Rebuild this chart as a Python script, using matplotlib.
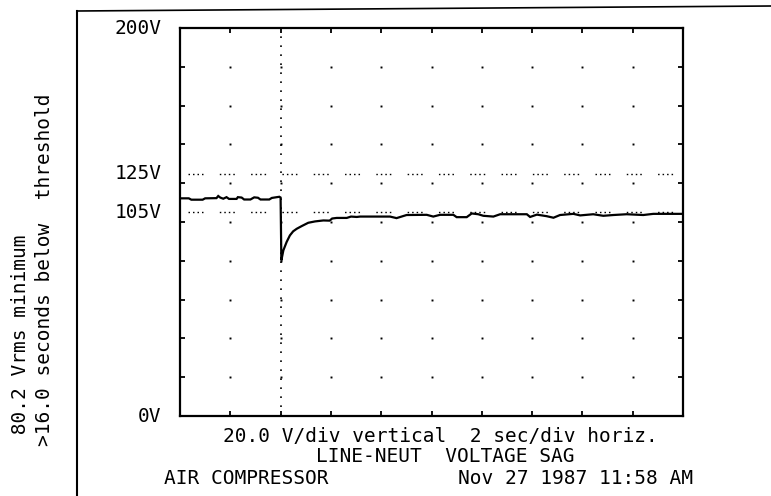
import matplotlib
matplotlib.use("Agg")
import matplotlib.pyplot as plt
from matplotlib.lines import Line2D
import numpy as np

# ---------------- data ----------------
time_s = [0.0, 0.35, 0.45, 0.9, 1.0, 1.45, 1.52, 1.6, 1.72, 1.85, 1.95, 2.25, 2.3,
          2.45, 2.55, 2.8, 2.95, 3.1, 3.2, 3.55, 3.65, 3.95, 4.0,
          4.03, 4.11, 4.24, 4.37, 4.50, 4.64, 4.84, 5.10, 5.37, 5.70, 5.95, 6.05,
          6.23, 6.63, 6.8, 7.03,
          7.16, 8.35, 8.61, 9.01, 9.81, 10.07, 10.34, 10.87, 11.0, 11.4, 11.6,
          11.86, 12.06, 12.46, 12.73, 13.79, 13.92, 14.19, 14.58, 14.85, 15.11,
          15.64, 15.91, 16.43, 16.83, 17.23, 17.76, 18.42, 18.82, 20.0]
vrms = [112.2, 112.2, 111.5, 111.5, 112.2, 112.3, 113.4, 112.6, 112.0, 112.8, 111.9,
        111.9, 112.8, 112.6, 111.6, 111.6, 112.7, 112.5, 111.6, 111.6, 112.4, 113.0,
        112.6,
        80.2, 85.4, 89.7, 93.1, 95.2, 96.5, 97.9, 99.6, 100.3, 100.8, 100.7, 101.8,
        102.1, 102.1, 102.8, 102.6,
        102.8, 102.8, 102.0, 103.6, 103.7, 102.8, 103.7, 103.7, 102.5, 102.5, 104.4,
        104.0, 103.2, 102.8, 104.0, 104.0, 102.6, 103.8, 103.0, 102.2, 103.6,
        104.2, 103.4, 104.0, 103.2, 103.6, 104.0, 103.6, 104.2, 104.2]
thresholds = [125, 105]
event_time = 4.0
y_labels = {200: "200V", 125: "125V", 105: "105V", 0: "0V"}
x_max, y_max = 20, 200
x_div, y_div = 2, 20

caption_scale = "20.0 V/div vertical  2 sec/div horiz."
caption_title = "LINE-NEUT  VOLTAGE SAG"
caption_site = "AIR COMPRESSOR"
caption_date = "Nov 27 1987 11:58 AM"
side_line1 = " 80.2 Vrms minimum"
side_line2 = ">16.0 seconds below  threshold"

# ---------------- figure ----------------
W, H = 771, 496
fig = plt.figure(figsize=(W / 100, H / 100), dpi=100)
fig.patch.set_facecolor("white")
FONT = "DejaVu Sans Mono"
FS = 14

ax = fig.add_axes([180 / W, (H - 416) / H, 503 / W, 388 / H])
ax.set_xlim(0, x_max)
ax.set_ylim(0, y_max)
for s in ax.spines.values():
    s.set_linewidth(1.6)
    s.set_color("black")

xt = np.arange(0, x_max + 0.01, x_div)
yt = np.arange(0, y_max + 0.01, y_div)
ax.set_xticks(xt)
ax.set_yticks(yt)
ax.tick_params(direction="in", length=3.5, width=1.3, top=True, right=True,
               labelbottom=False, labelleft=False, color="black")

# grid dots at division intersections
gx, gy = np.meshgrid(xt[1:-1], yt[1:-1])
ax.plot(gx.ravel(), gy.ravel(), linestyle="none", marker="s", ms=1.4,
        color="black", mew=0)

# threshold dotted lines (groups of 4 dots)
for th in thresholds:
    ax.plot([0, x_max], [th, th], color="black", lw=1.0,
            linestyle=(16.78, (1.08, 2.16, 1.08, 2.16, 1.08, 2.16, 1.08, 11.74)),
            dash_capstyle="butt")

# event marker
ax.plot([event_time, event_time], [0, y_max], color="black", lw=1.2,
        linestyle=(0, (1.0, 4.4)))

# trace
ax.plot(time_s, vrms, color="black", lw=1.6, solid_joinstyle="miter")

# y labels
for val, lab in y_labels.items():
    ax.annotate(lab, xy=(0, val), xycoords=("axes fraction", "data"),
                xytext=(-13.5, 0), textcoords="offset points",
                ha="right", va="center", fontsize=FS, family=FONT)

# captions
def ftxt(x, y, s, **kw):
    fig.text(x / W, 1 - y / H, s, fontsize=FS, family=FONT, **kw)

ftxt(440, 436, caption_scale, ha="center", va="center")
ftxt(445, 457, caption_title, ha="center", va="center")
ftxt(246, 478, caption_site, ha="center", va="center")
ftxt(575, 478, caption_date, ha="center", va="center")
ftxt(21, 446, side_line1, ha="left", va="center", rotation=90,
     rotation_mode="anchor")
ftxt(44, 446, side_line2, ha="left", va="center", rotation=90,
     rotation_mode="anchor")

# outer scan frame
fig.add_artist(Line2D([77 / W, 77 / W], [1 - 11 / H, 0], transform=fig.transFigure,
                      color="black", lw=1.5))
fig.add_artist(Line2D([77 / W, 1.0], [1 - 11 / H, 1 - 6 / H], transform=fig.transFigure,
                      color="black", lw=1.2))

fig.savefig("out.png", dpi=100, facecolor="white")
